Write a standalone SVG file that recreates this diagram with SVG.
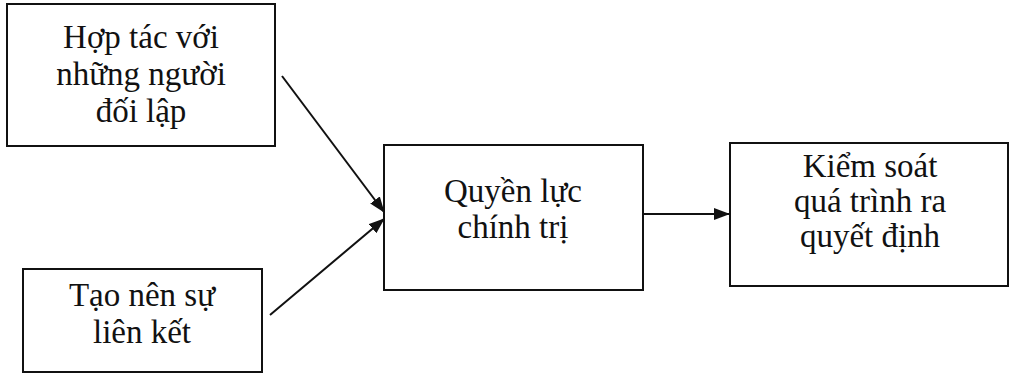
<svg xmlns="http://www.w3.org/2000/svg" width="1016" height="374" viewBox="0 0 1016 374">
  <style>
    .box { fill: #ffffff; stroke: #111111; stroke-width: 2; }
    .lbl { font-family: "Liberation Serif", "Times New Roman", serif; font-size: 33px; fill: #111111; text-anchor: middle; }
    .edge { stroke: #111111; stroke-width: 2; fill: none; marker-end: url(#arrow); }
  </style>
  <defs>
    <marker id="arrow" viewBox="0 0 16 12" refX="15" refY="6" markerWidth="16" markerHeight="12" markerUnits="userSpaceOnUse" orient="auto">
      <path d="M0,0 L16,6 L0,12 Z" fill="#111111"/>
    </marker>
  </defs>

  <rect width="1016" height="374" fill="#ffffff"/>

  <g id="node-hop-tac">
    <rect class="box" x="7" y="4" width="268" height="142"/>
    <text class="lbl" x="141" y="48">Hợp tác với</text>
    <text class="lbl" x="141" y="85">những người</text>
    <text class="lbl" x="141" y="122">đối lập</text>
  </g>

  <g id="node-lien-ket">
    <rect class="box" x="23" y="269" width="239" height="103"/>
    <text class="lbl" x="142" y="306">Tạo nên sự</text>
    <text class="lbl" x="142" y="343">liên kết</text>
  </g>

  <g id="node-quyen-luc">
    <rect class="box" x="384" y="145" width="259" height="145"/>
    <text class="lbl" x="513" y="202">Quyền lực</text>
    <text class="lbl" x="513" y="238">chính trị</text>
  </g>

  <g id="node-kiem-soat">
    <rect class="box" x="730" y="143" width="278" height="143"/>
    <text class="lbl" x="870" y="177">Kiểm soát</text>
    <text class="lbl" x="870" y="212">quá trình ra</text>
    <text class="lbl" x="870" y="247">quyết định</text>
  </g>

  <g id="connectors">
    <line class="edge" x1="282" y1="76" x2="384" y2="212"/>
    <line class="edge" x1="270" y1="315" x2="384" y2="219"/>
    <line class="edge" x1="643" y1="214" x2="729" y2="214"/>
  </g>
</svg>
